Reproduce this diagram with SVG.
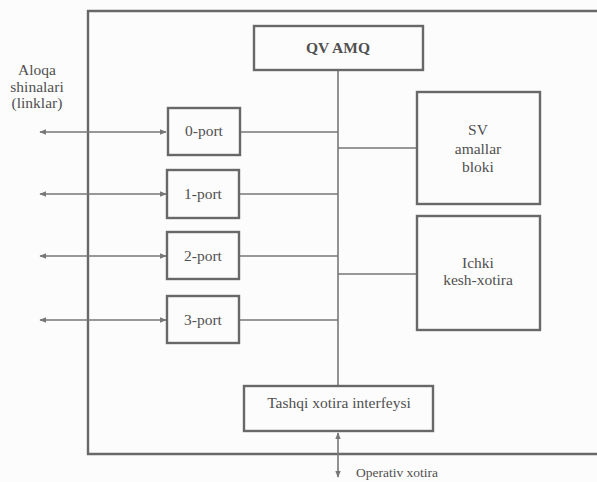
<svg xmlns="http://www.w3.org/2000/svg" width="597" height="482" viewBox="0 0 597 482">
<style>
.box{fill:none;stroke:#686868;stroke-width:2.4}
.ln{fill:none;stroke:#777;stroke-width:1.6}
.t{font-family:"Liberation Serif","Times New Roman",serif;font-size:15.5px;fill:#505050;text-anchor:middle}
.b{font-weight:bold}
</style>
<defs>
<marker id="ah" viewBox="0 0 10 10" refX="9" refY="5" markerWidth="7" markerHeight="7" orient="auto-start-reverse" markerUnits="userSpaceOnUse">
<path d="M0,1 L10,5 L0,9 z" fill="#777"/>
</marker>
</defs>
<rect width="597" height="482" fill="#fcfcfc"/>
<g id="frame">
<path class="box" d="M604,11 H88 V454 H604" stroke-width="1.7"/>
</g>
<g id="connectors">
<line class="ln" x1="338" y1="70" x2="338" y2="386"/>
<line class="ln" x1="40" y1="132" x2="166" y2="132" marker-start="url(#ah)" marker-end="url(#ah)"/>
<line class="ln" x1="40" y1="194" x2="166" y2="194" marker-start="url(#ah)" marker-end="url(#ah)"/>
<line class="ln" x1="40" y1="256" x2="166" y2="256" marker-start="url(#ah)" marker-end="url(#ah)"/>
<line class="ln" x1="40" y1="320" x2="166" y2="320" marker-start="url(#ah)" marker-end="url(#ah)"/>
<line class="ln" x1="240" y1="132" x2="338" y2="132"/>
<line class="ln" x1="239" y1="194" x2="338" y2="194"/>
<line class="ln" x1="239" y1="256" x2="338" y2="256"/>
<line class="ln" x1="239" y1="320" x2="338" y2="320"/>
<line class="ln" x1="338" y1="148" x2="417" y2="148"/>
<line class="ln" x1="338" y1="274" x2="417" y2="274"/>
<line class="ln" x1="338" y1="433" x2="338" y2="477" marker-start="url(#ah)" marker-end="url(#ah)"/>
</g>
<g id="qvamq">
<rect class="box" x="254" y="26" width="169" height="44"/>
<text class="t b" x="338" y="53">QV AMQ</text>
</g>
<g id="sv">
<rect class="box" x="417" y="92" width="123" height="112"/>
<text class="t" x="478" y="135">SV</text>
<text class="t" x="478" y="154">amallar</text>
<text class="t" x="478" y="172">bloki</text>
</g>
<g id="ichki">
<rect class="box" x="417" y="216" width="123" height="114"/>
<text class="t" x="478" y="268">Ichki</text>
<text class="t" x="478" y="285">kesh-xotira</text>
</g>
<g id="port0">
<rect class="box" x="168" y="108" width="72" height="47"/>
<text class="t" x="204" y="136">0-port</text>
</g>
<g id="port1">
<rect class="box" x="167" y="170" width="72" height="48"/>
<text class="t" x="203" y="199">1-port</text>
</g>
<g id="port2">
<rect class="box" x="167" y="232" width="72" height="47"/>
<text class="t" x="203" y="261">2-port</text>
</g>
<g id="port3">
<rect class="box" x="167" y="296" width="72" height="47"/>
<text class="t" x="203" y="325">3-port</text>
</g>
<g id="tashqi">
<rect class="box" x="244" y="386" width="189" height="45"/>
<text class="t" x="339" y="408">Tashqi xotira interfeysi</text>
</g>
<g id="labels">
<text class="t" x="37" y="75">Aloqa</text>
<text class="t" x="37" y="92">shinalari</text>
<text class="t" x="37" y="108">(linklar)</text>
<text class="t" x="356" y="477" style="text-anchor:start;font-size:13.5px">Operativ xotira</text>
</g>
</svg>
